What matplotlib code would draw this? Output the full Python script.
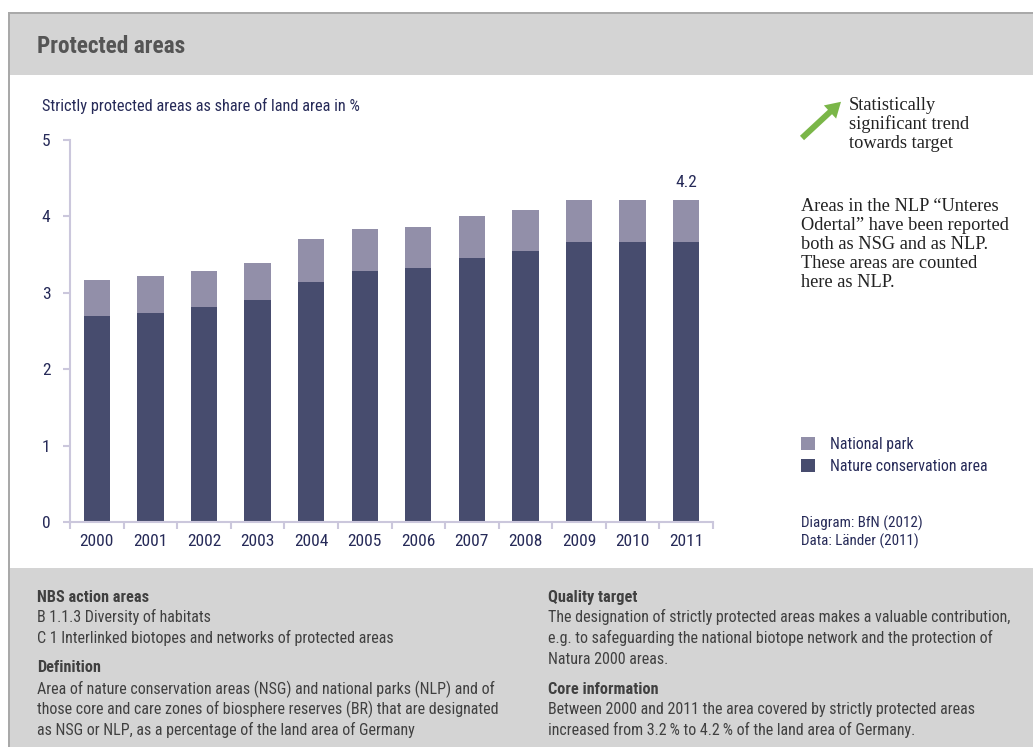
import matplotlib
matplotlib.use("Agg")
import matplotlib.pyplot as plt
import matplotlib.patches as mpatches
from matplotlib.transforms import Affine2D
import numpy as np

# data
years = ["2000", "2001", "2002", "2003", "2004", "2005",
         "2006", "2007", "2008", "2009", "2010", "2011"]
nature_conservation = [2.69, 2.73, 2.81, 2.91, 3.14, 3.29, 3.32, 3.45, 3.55, 3.66, 3.66, 3.66]
national_park = [0.48, 0.49, 0.48, 0.48, 0.56, 0.54, 0.54, 0.55, 0.54, 0.55, 0.55, 0.55]
yticks = [0, 1, 2, 3, 4, 5]

W, H = 1033, 747
NAVY = "#262a58"
NSG_C = "#474c6e"
NP_C = "#928fa9"
AXC = "#cbc7dc"
BAND = "#d4d4d4"
EDGE = "#a9a9a9"
GREYTXT = "#404040"
SANS = ["Roboto Condensed", "DejaVu Sans"]
SERIF = ["Liberation Serif", "DejaVu Serif"]

plt.rcParams["font.family"] = SANS
plt.rcParams["font.stretch"] = "condensed"

fig = plt.figure(figsize=(W / 100, H / 100), dpi=100)
pix = Affine2D().scale(1 / W, -1 / H).translate(0, 1) + fig.transFigure


def rect(x0, y0, x1, y1, color):
    fig.add_artist(mpatches.Rectangle((x0, y1), x1 - x0, y0 - y1, transform=pix,
                                      facecolor=color, edgecolor="none", zorder=0))


def txt(x, y, s, **kw):
    kw.setdefault("va", "baseline")
    fig.text(x, y, s, transform=pix, **kw)


# frame and grey bands
rect(8, 13, W, 75, BAND)
rect(8, 568, W, H, BAND)
rect(8, 12, W, 14, EDGE)
rect(8, 12, 10, H, EDGE)

txt(37, 53, "Protected areas", fontsize=16.8, fontweight="bold", color="#555555")
txt(42, 111, "Strictly protected areas as share of land area in %", fontsize=11.8, color=NAVY)

# chart
ax = fig.add_axes([70 / W, 1 - 522 / H, 643 / W, 382 / H])
x = np.arange(len(years))
ax.bar(x, nature_conservation, width=0.49, color=NSG_C, zorder=2)
ax.bar(x, national_park, width=0.49, bottom=nature_conservation, color=NP_C, zorder=2)
total = np.array(nature_conservation) + np.array(national_park)
ax.text(x[-1], total[-1] + 0.13, "4.2", ha="center", va="bottom", fontsize=12.5, color=NAVY)

ax.set_xlim(-0.5, len(years) - 0.5)
ax.set_ylim(0, 5)
ax.set_yticks(yticks)
ax.set_xticks(x)
ax.set_xticklabels(years)
ax.set_xticks(np.arange(-0.5, len(years)), minor=True)
for s in ["top", "right"]:
    ax.spines[s].set_visible(False)
for s in ["left", "bottom"]:
    ax.spines[s].set_color(AXC)
    ax.spines[s].set_linewidth(1.5)
ax.tick_params(axis="y", length=5, width=1.5, color=AXC, pad=9, labelsize=12.5, labelcolor=NAVY)
ax.tick_params(axis="x", which="major", length=0, pad=9, labelsize=12.5, labelcolor=NAVY)
ax.tick_params(axis="x", which="minor", length=5, width=1.5, color=AXC)
ax.set_facecolor("none")

# trend arrow and notes
fig.add_artist(mpatches.FancyArrow(802, 138, 28, -26, width=6, head_width=18, head_length=15,
                                   length_includes_head=False, transform=pix,
                                   color="#7ab648", linewidth=0))
for i, line in enumerate(["Statistically", "significant trend", "towards target"]):
    txt(849, 110 + i * 19, line, fontsize=13.2, family=SERIF, stretch="normal", color="#222222")
note = ["Areas in the NLP \u201cUnteres", "Odertal\u201d have been reported",
        "both as NSG and as NLP.", "These areas are counted", "here as NLP."]
for i, line in enumerate(note):
    txt(801, 211 + i * 19, line, fontsize=13.2, family=SERIF, stretch="normal", color="#222222")

# legend
rect(801, 437, 815, 450, NP_C)
rect(801, 459, 815, 472, NSG_C)
txt(830, 449, "National park", fontsize=11.4, color=NAVY)
txt(830, 471, "Nature conservation area", fontsize=11.4, color=NAVY)
txt(801, 528, "Diagram: BfN (2012)", fontsize=10.8, color=NAVY)
txt(801, 546, "Data: L\u00e4nder (2011)", fontsize=10.8, color=NAVY)

# bottom panel
left_col = [
    ("NBS action areas", 602, True),
    ("B 1.1.3 Diversity of habitats", 622, False),
    ("C 1 Interlinked biotopes and networks of protected areas", 643, False),
    ("Definition", 672, True),
    ("Area of nature conservation areas (NSG) and national parks (NLP) and of", 694, False),
    ("those core and care zones of biosphere reserves (BR) that are designated", 714, False),
    ("as NSG or NLP, as a percentage of the land area of Germany", 735, False),
]
right_col = [
    ("Quality target", 602, True),
    ("The designation of strictly protected areas makes a valuable contribution,", 622, False),
    ("e.g. to safeguarding the national biotope network and the protection of", 643, False),
    ("Natura 2000 areas.", 664, False),
    ("Core information", 694, True),
    ("Between 2000 and 2011 the area covered by strictly protected areas", 714, False),
    ("increased from 3.2\u2009% to 4.2\u2009% of the land area of Germany.", 735, False),
]
for xx, col in [(37, left_col), (548, right_col)]:
    for s, yy, bold in col:
        txt(xx, yy, s, fontsize=11.7 if bold else 11.5, color=GREYTXT,
            fontweight="bold" if bold else "normal")

fig.savefig("out.png", dpi=100)
